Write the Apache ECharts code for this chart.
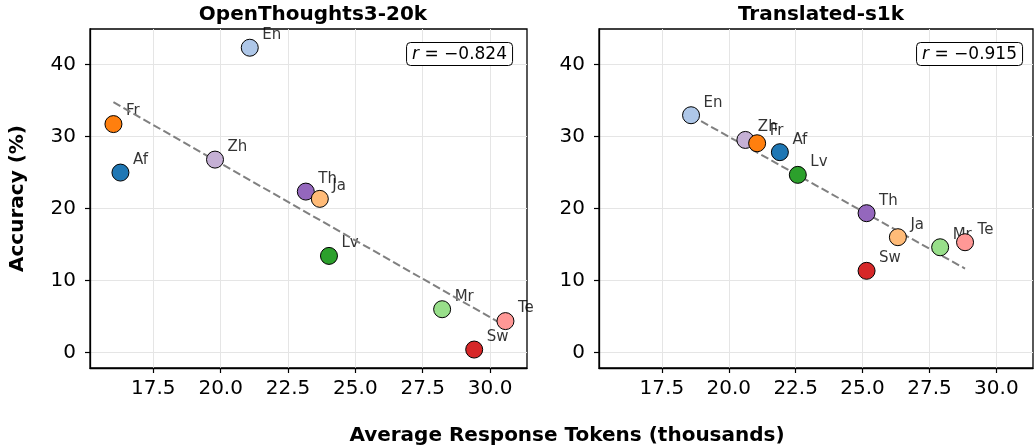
<!DOCTYPE html>
<html>
<head>
<meta charset="utf-8">
<style>
  html, body { margin: 0; padding: 0; background: #fff; }
  #chart { width: 1034px; height: 447px; }
</style>
<script src="https://cdn.jsdelivr.net/npm/echarts@6/dist/echarts.min.js"></script>
</head>
<body>
<div id="chart"></div>
<script>
// languages, in the order they are drawn (later ones sit on top)
const languages = ["En", "Zh", "Af", "Th", "Ja", "Fr", "Lv", "Mr", "Te", "Sw"];

// OpenThoughts3-20k
const otTokens = [21.08, 19.79, 16.28, 23.16, 23.68, 16.02, 24.02, 28.22, 30.57, 29.41];
const otAccuracy = [42.3, 26.77, 24.97, 22.33, 21.32, 31.7, 13.4, 6.0, 4.35, 0.4];

// Translated-s1k
const s1kTokens = [18.59, 20.62, 21.91, 25.15, 26.32, 21.06, 22.58, 27.9, 28.83, 25.15];
const s1kAccuracy = [32.93, 29.5, 27.8, 19.33, 16.0, 29.04, 24.65, 14.6, 15.3, 11.33];

const panelTitles = ["OpenThoughts3-20k", "Translated-s1k"];
const rLabels = ["\u22120.824", "\u22120.915"];
const xTicks = [17.5, 20.0, 22.5, 25.0, 27.5, 30.0];
const yTicks = [0, 10, 20, 30, 40];

// tab20 colours per language
const langColors = {
  Af: "#1f77b4", En: "#aec7e8", Fr: "#ff7f0e", Ja: "#ffbb78", Lv: "#2ca02c",
  Mr: "#98df8a", Sw: "#d62728", Te: "#ff9896", Th: "#9467bd", Zh: "#c5b0d5",
};

const FONT = "DejaVu Sans";

// least squares fit, line spans the data's x range
function fitLine(xs, ys) {
  const n = xs.length;
  const mx = xs.reduce((a, b) => a + b, 0) / n;
  const my = ys.reduce((a, b) => a + b, 0) / n;
  let sxy = 0, sxx = 0;
  for (let i = 0; i < n; i++) {
    sxy += (xs[i] - mx) * (ys[i] - my);
    sxx += (xs[i] - mx) * (xs[i] - mx);
  }
  const slope = sxy / sxx;
  const x0 = Math.min(...xs), x1 = Math.max(...xs);
  return [[x0, my + slope * (x0 - mx)], [x1, my + slope * (x1 - mx)]];
}

const panels = [
  { xs: otTokens, ys: otAccuracy },
  { xs: s1kTokens, ys: s1kAccuracy },
];

// full box round each panel
const grids = [
  { left: 90, top: 29, width: 437, height: 339, show: true, borderColor: "#000", borderWidth: 1.3, backgroundColor: "transparent" },
  { left: 599, top: 29, width: 434, height: 339, show: true, borderColor: "#000", borderWidth: 1.3, backgroundColor: "transparent" },
];

function makeXAxis(i) {
  return {
    type: "value", gridIndex: i, min: 15.15, max: 31.37,
    axisLine: { show: true, onZero: false, lineStyle: { color: "#000", width: 1.3 } },
    axisTick: { show: true, length: 5, customValues: xTicks, lineStyle: { color: "#000", width: 1.2 } },
    axisLabel: { customValues: xTicks, margin: 11, color: "#000", fontSize: 20, fontFamily: FONT,
      formatter: (v) => v.toFixed(1) },
    splitLine: { show: true, lineStyle: { color: "#e5e5e5", width: 1 } },
  };
}

function makeYAxis(i) {
  return {
    type: "value", gridIndex: i, min: -2.16, max: 44.9,
    name: i === 0 ? "Accuracy (%)" : "",
    nameLocation: "middle", nameGap: 62,
    nameTextStyle: { fontSize: 20, fontWeight: "bold", fontFamily: FONT, color: "#000" },
    axisLine: { show: true, onZero: false, lineStyle: { color: "#000", width: 1.3 } },
    axisTick: { show: true, length: 5, customValues: yTicks, lineStyle: { color: "#000", width: 1.2 } },
    axisLabel: { customValues: yTicks, margin: 14, color: "#000", fontSize: 20, fontFamily: FONT },
    splitLine: { show: true, lineStyle: { color: "#e5e5e5", width: 1 } },
  };
}

const series = [];
panels.forEach((p, i) => {
  const points = languages.map((lang, k) => ({
    name: lang,
    value: [p.xs[k], p.ys[k]],
    itemStyle: { color: langColors[lang] },
  }));
  // text labels (under the trend line and markers)
  series.push({
    type: "scatter", xAxisIndex: i, yAxisIndex: i, z: 1,
    symbolSize: 16, silent: true,
    itemStyle: { color: "rgba(0,0,0,0)", borderWidth: 0 },
    label: {
      show: true, formatter: "{b}", position: [20.5, -4.5],
      align: "left", verticalAlign: "middle",
      fontSize: 15, fontFamily: FONT, color: "#000",
    },
    data: points.map((d) => ({ name: d.name, value: d.value })),
  });
  // trend line
  series.push({
    type: "line", xAxisIndex: i, yAxisIndex: i, z: 2,
    symbol: "none", silent: true,
    lineStyle: { color: "#808080", width: 2, type: [8, 3.5] },
    data: fitLine(p.xs, p.ys),
  });
  // markers
  series.push({
    type: "scatter", xAxisIndex: i, yAxisIndex: i, z: 3,
    symbol: "circle", symbolSize: 17,
    itemStyle: { borderColor: "#000", borderWidth: 1, opacity: 1 },
    data: points,
  });
});

const titleStyle = { fontSize: 20, fontWeight: "bold", fontFamily: FONT, color: "#000" };
const titles = [
  { text: panelTitles[0], left: 308, top: 0, textAlign: "center", textStyle: titleStyle },
  { text: panelTitles[1], left: 816, top: 0, textAlign: "center", textStyle: titleStyle },
  { text: "Average Response Tokens (thousands)", left: 562, top: 421, textAlign: "center", textStyle: titleStyle },
];
// correlation boxes
[521, 11].forEach((right, i) => {
  titles.push({
    text: "{i|r} = " + rLabels[i],
    right: right, top: 42,
    padding: [4, 6, 3, 6],
    backgroundColor: "#fff", borderColor: "#000", borderWidth: 1, borderRadius: 4,
    textStyle: {
      fontSize: 17, fontWeight: "normal", fontFamily: FONT, color: "#000",
      rich: { i: { fontSize: 17, fontFamily: FONT, fontStyle: "italic", fontWeight: "normal", color: "#000" } },
    },
  });
});

const chart = echarts.init(document.getElementById("chart"));
chart.setOption({
  animation: false,
  backgroundColor: "#fff",
  title: titles,
  grid: grids,
  xAxis: [makeXAxis(0), makeXAxis(1)],
  yAxis: [makeYAxis(0), makeYAxis(1)],
  series: series,
});
</script>
</body>
</html>
